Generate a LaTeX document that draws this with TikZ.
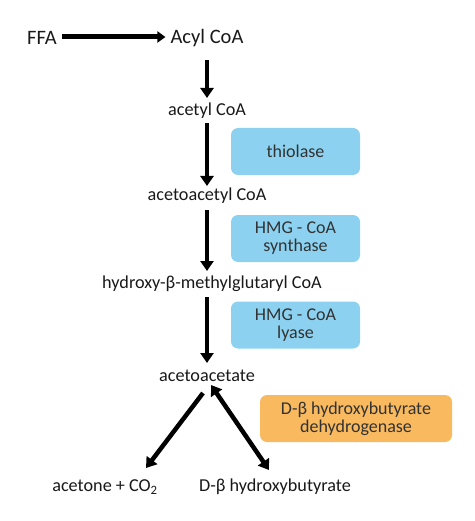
\documentclass[tikz,border=0pt]{standalone}
\usepackage{fontspec}
\setmainfont{Carlito}
\usepackage{tikz}
\usetikzlibrary{arrows.meta, positioning}
\definecolor{enzblue}{RGB}{140,210,240}
\definecolor{enzorange}{RGB}{248,185,95}
\definecolor{enztext}{RGB}{50,50,50}
\tikzset{
	>={Triangle[length=10pt, width=13pt]}, % bold triangular heads
	step arrow/.style={->, line width=4.5pt}, % the pathway arrows
	metab/.style={inner sep=1pt, text=black!90, font=\fontsize{18.2}{19}\selectfont}, % metabolite labels
	enzyme/.style={rounded corners=7pt, minimum width=129pt, minimum height=47pt, align=center,
		text=enztext, font=\fontsize{18}{18}\selectfont}, % enzyme boxes
}
\begin{document}
\begin{tikzpicture}[x=1pt, y=-1pt]
	\useasboundingbox (0,0) rectangle (474,521);
	\node[metab, font=\fontsize{20.5}{21}\selectfont] (ffa) at (42,38) {FFA};
	\node[metab, font=\fontsize{20.5}{21}\selectfont] (acyl) at (207,38) {Acyl CoA};
	\node[metab] (acetyl) at (207,111) {acetyl CoA};
	\node[metab] (acac) at (207,196) {acetoacetyl CoA};
	\node[metab] (hmg) at (212,284) {hydroxy-β-methylglutaryl CoA};
	\node[metab] (aca) at (207,376) {acetoacetate};
	\node[metab] (acetone) at (105,487) {acetone + CO\textsubscript{2}};
	\node[metab] (hbut) at (275,487) {D-β hydroxybutyrate};
	\node[enzyme, fill=enzblue] (thio) at (295.5,151.5) {thiolase};
	\node[enzyme, fill=enzblue] (synth) at (295.5,238.5) {HMG - CoA\\synthase};
	\node[enzyme, fill=enzblue] (lyase) at (295.5,325) {HMG - CoA\\lyase};
	\node[enzyme, fill=enzorange, minimum width=192pt] (dehyd) at (356,418.5) {D-β hydroxybutyrate\\dehydrogenase};
	\coordinate (a1) at (207,60);
	\coordinate (a2) at (207,123);
	\coordinate (a3) at (207,210);
	\coordinate (a4) at (207,297);
	\draw[step arrow, line width=5pt, >={Triangle[length=8pt, width=11pt]}, shorten <=4pt, shorten >=4pt]
		(ffa.east) ++(0,-1) coordinate (s0) -- (acyl.west |- s0);
	\draw[step arrow] (a1) -- (207,98);
	\draw[step arrow] (a2) -- (207,186);
	\draw[step arrow] (a3) -- (207,271);
	\draw[step arrow] (a4) -- (207,363);
	\draw[step arrow] (203,393) -- (146,468);
	\draw[step arrow, <->] (211,385) -- (269,470);
\end{tikzpicture}
\end{document}
